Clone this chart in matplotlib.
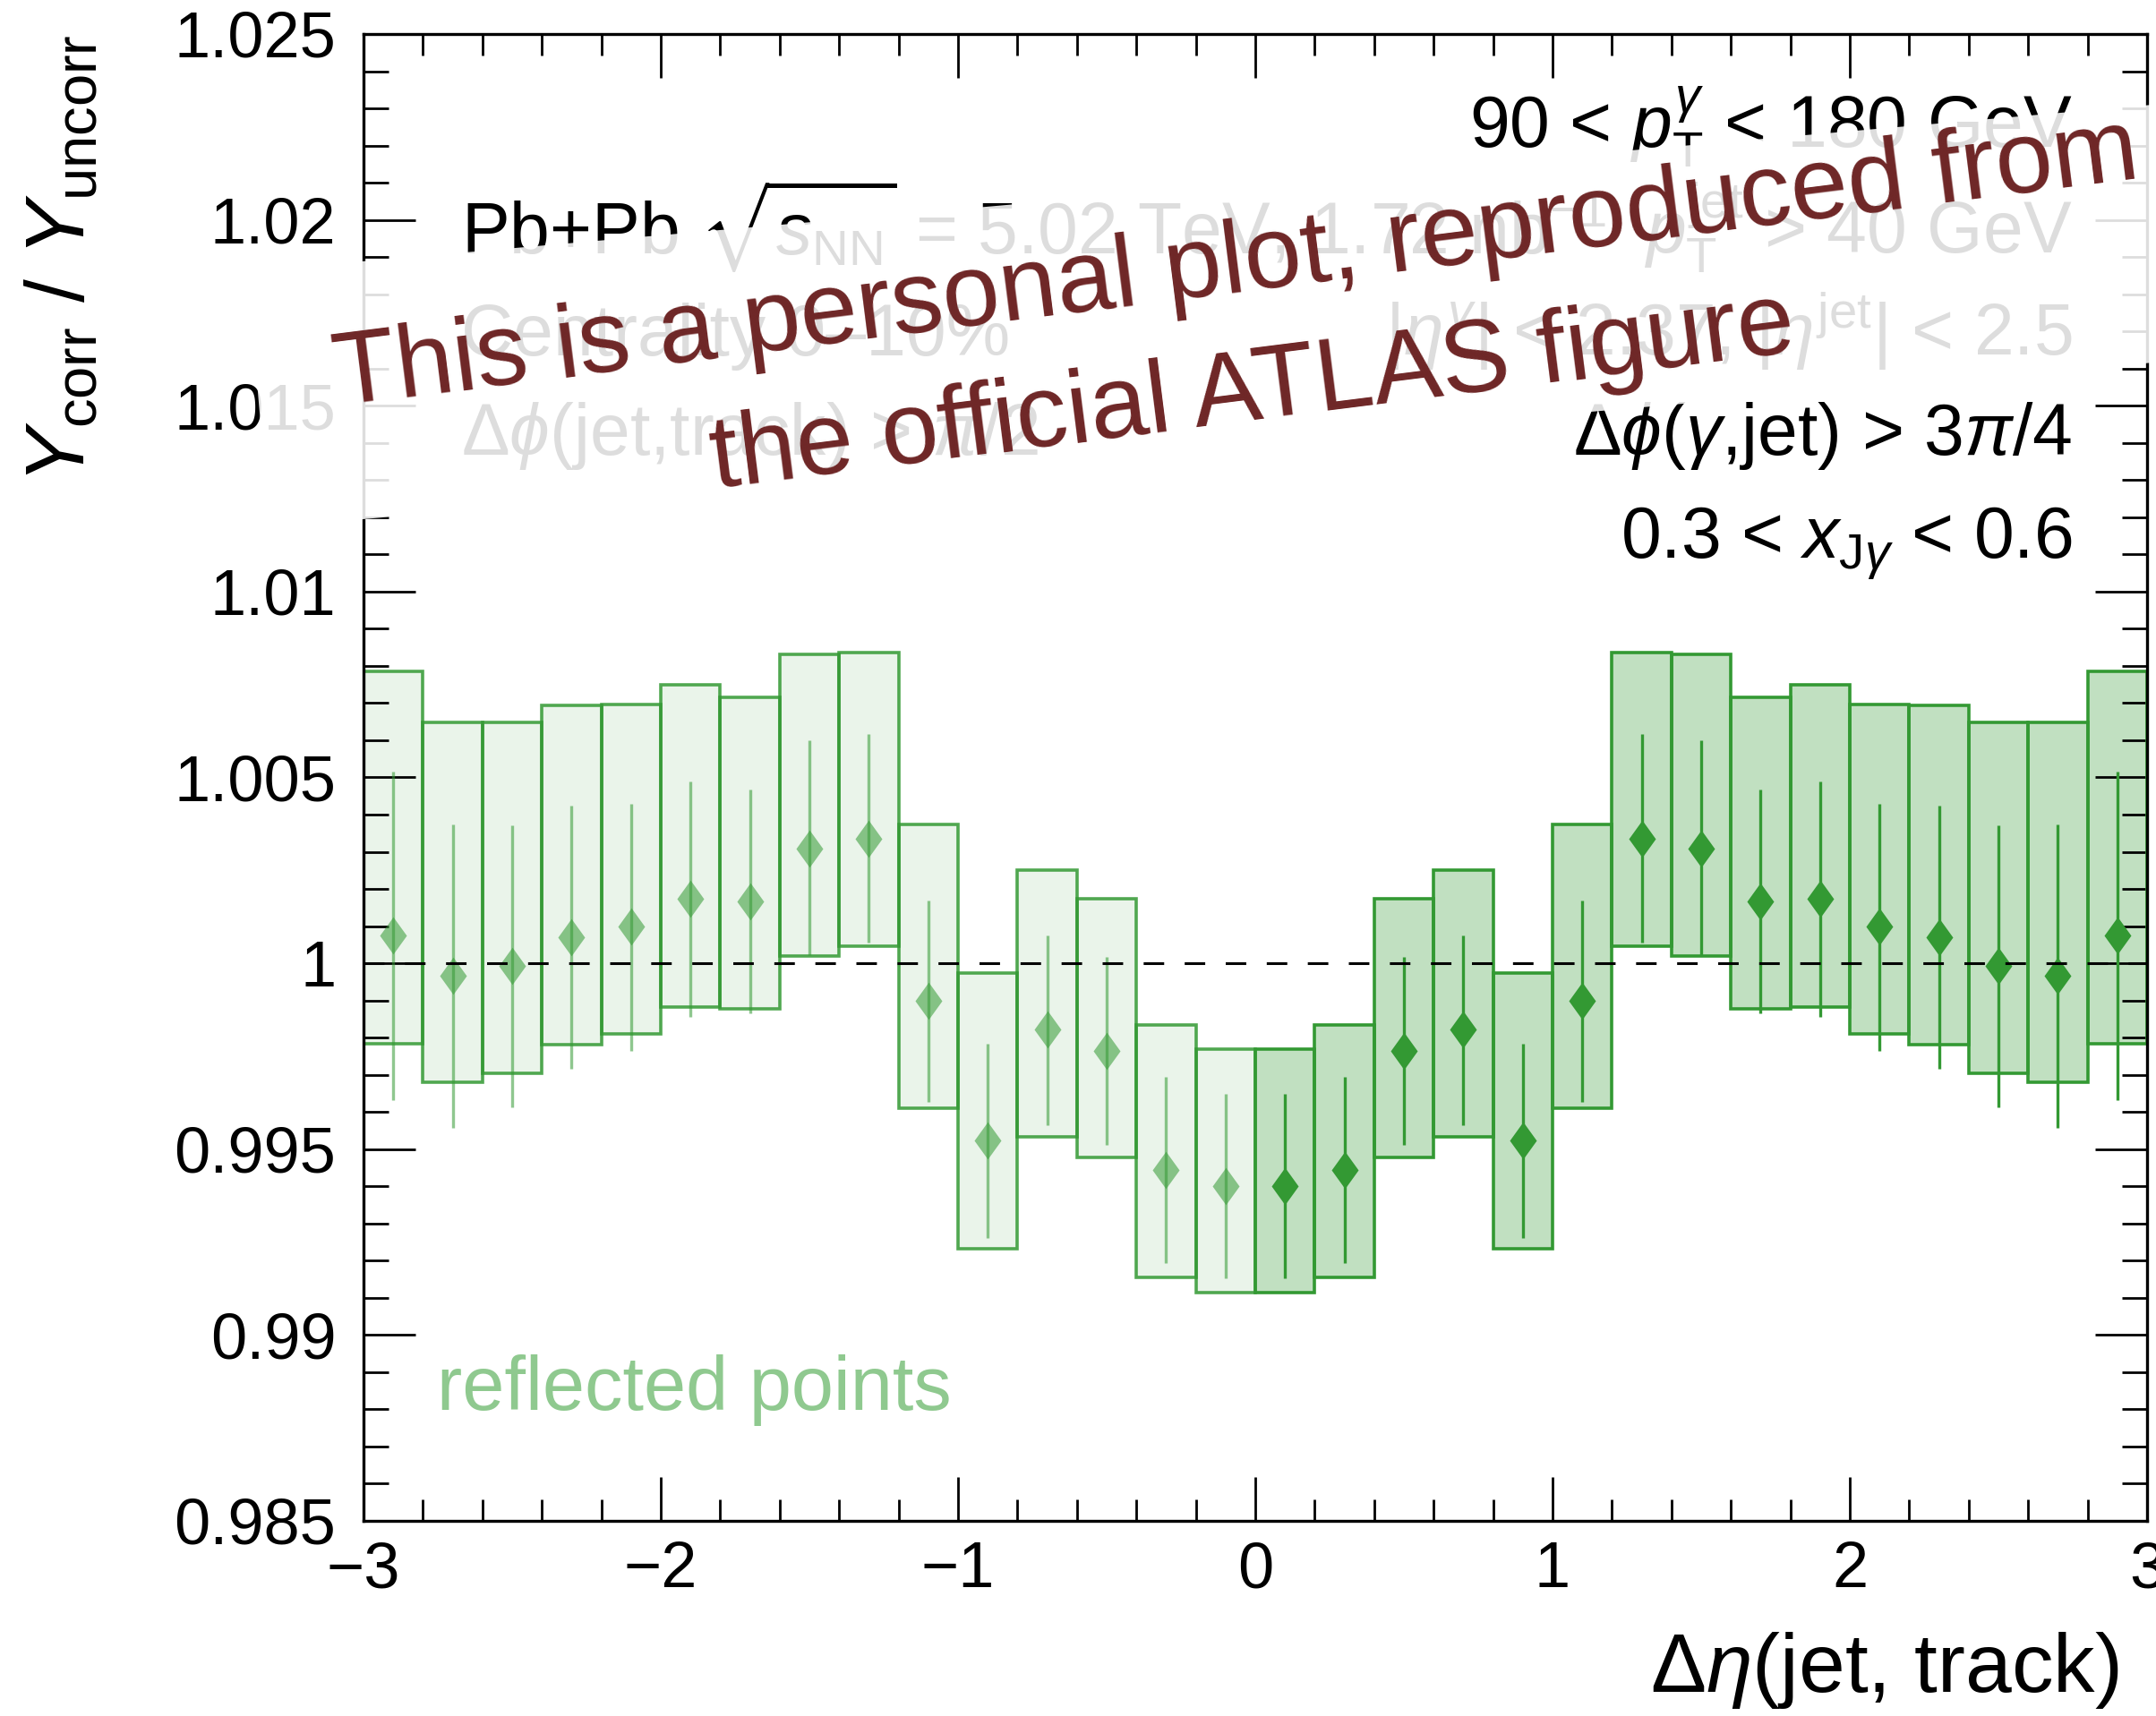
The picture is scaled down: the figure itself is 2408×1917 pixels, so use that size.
import numpy as np
import matplotlib
matplotlib.use('Agg')
import matplotlib.pyplot as plt
from matplotlib.path import Path
from matplotlib.patches import Rectangle
from matplotlib.ticker import MultipleLocator, FixedLocator, FuncFormatter

plt.rcParams['font.family'] = ['Liberation Sans', 'DejaVu Sans']
plt.rcParams['mathtext.fontset'] = 'custom'
plt.rcParams['mathtext.rm'] = 'Liberation Sans'
plt.rcParams['mathtext.it'] = 'Liberation Sans:italic'
plt.rcParams['mathtext.bf'] = 'Liberation Sans:bold'
plt.rcParams['mathtext.sf'] = 'Liberation Sans'
plt.rcParams['mathtext.fallback'] = 'stixsans'
plt.rcParams['lines.scale_dashes'] = False

# ---------------- data (right half, 0 < d_eta < 3) ----------------
bin_centers = [0.1, 0.3, 0.5, 0.7, 0.9, 1.1, 1.3, 1.5, 1.7, 1.9, 2.1, 2.3, 2.5, 2.7, 2.9]
bin_width = 0.2
ratio = [0.99401, 0.99445, 0.99765, 0.99821, 0.99523, 0.99898, 1.00335, 1.00308,
         1.00166, 1.00174, 1.00098, 1.00069, 0.99993, 0.99966, 1.00074]
stat_hi = [0.99648, 0.99695, 1.00018, 1.00076, 0.99784, 1.00169, 1.00617, 1.00599,
           1.00468, 1.00489, 1.00429, 1.00423, 1.00370, 1.00374, 1.00516]
stat_lo = [0.99153, 0.99194, 0.99512, 0.99564, 0.99261, 0.99626, 1.00055, 1.00023,
           0.99865, 0.99856, 0.99765, 0.99716, 0.99613, 0.99558, 0.99632]
sys_hi = [0.99769, 0.99833, 1.00174, 1.00250, 0.99975, 1.00374, 1.00836, 1.00832,
          1.00715, 1.00750, 1.00697, 1.00695, 1.00647, 1.00648, 1.00785]
sys_lo = [0.99115, 0.99156, 0.99477, 0.99532, 0.99231, 0.99609, 1.00047, 1.00020,
          0.99877, 0.99883, 0.99810, 0.99780, 0.99704, 0.99679, 0.99784]

x_ticks = [-3, -2, -1, 0, 1, 2, 3]
y_ticks = [0.985, 0.99, 0.995, 1.0, 1.005, 1.01, 1.015, 1.02, 1.025]

green = '#339933'

x = np.array(bin_centers)
r = np.array(ratio)
shi, slo = np.array(stat_hi), np.array(stat_lo)
yhi, ylo = np.array(sys_hi), np.array(sys_lo)

fig = plt.figure(figsize=(24.08, 19.17), dpi=100)
ax = fig.add_axes([0.1686, 0.11372, 0.82725, 0.86646])

diamond = Path([(0, 1), (0.72, 0), (0, -1), (-0.72, 0), (0, 1)],
               [Path.MOVETO, Path.LINETO, Path.LINETO, Path.LINETO, Path.CLOSEPOLY])
msize = 30

# reflected (negative side), lighter
ax.bar(-x, yhi - ylo, bottom=ylo, width=bin_width, color=green, alpha=0.10,
       linewidth=0, zorder=1)
ax.bar(-x, yhi - ylo, bottom=ylo, width=bin_width, facecolor='none',
       edgecolor=(0.2, 0.6, 0.2, 0.85), linewidth=2.6, zorder=2)
ax.vlines(-x, slo, shi, color=green, alpha=0.55, linewidth=2.4, zorder=3)
ax.plot(-x, r, ls='none', marker=diamond, markersize=msize, color=green,
        alpha=0.55, markeredgewidth=0, zorder=4)

# measured (positive side)
ax.bar(x, yhi - ylo, bottom=ylo, width=bin_width, color=green, alpha=0.30,
       linewidth=0, zorder=1)
ax.bar(x, yhi - ylo, bottom=ylo, width=bin_width, facecolor='none',
       edgecolor=green, linewidth=2.6, zorder=2)
ax.vlines(x, slo, shi, color=green, linewidth=2.4, zorder=3)
ax.plot(x, r, ls='none', marker=diamond, markersize=msize, color=green,
        markeredgewidth=0, zorder=4)

ax.axhline(1.0, color='black', linewidth=2.2, linestyle=(0, (16.5, 16.5)), zorder=5)

ax.set_xlim(-3, 3)
ax.set_ylim(0.985, 1.025)
ax.xaxis.set_major_locator(FixedLocator(x_ticks))
ax.xaxis.set_minor_locator(MultipleLocator(0.2))
ax.yaxis.set_major_locator(FixedLocator(y_ticks))
ax.yaxis.set_minor_locator(MultipleLocator(0.001))
ax.xaxis.set_major_formatter(FuncFormatter(lambda v, p: f'{v:g}'.replace('-', '\u2212')))
ax.yaxis.set_major_formatter(FuncFormatter(lambda v, p: f'{v:.3f}'.rstrip('0').rstrip('.')))

ax.tick_params(which='both', direction='in', top=True, right=True, width=2.0,
               labelsize=52, zorder=6)
ax.tick_params(axis='x', which='major', length=35, pad=16)
ax.tick_params(axis='x', which='minor', length=17.5)
ax.tick_params(axis='y', which='major', length=42, pad=22)
ax.tick_params(axis='y', which='minor', length=20)
for s in ax.spines.values():
    s.set_linewidth(2.4)
    s.set_zorder(6)

ax.set_xlabel(r'$\Delta\eta$(jet, track)', fontsize=67, ha='right', va='baseline')
ax.xaxis.set_label_coords(0.984, -0.115)
ax.set_ylabel(r'$Y_{\mathrm{corr}}$ / $Y_{\mathrm{uncorr}}$', fontsize=67, ha='right', va='top')
ax.yaxis.set_label_coords(-0.190, 1.0)

fs = 58
xr = 0.958
xl = 0.0547
ax.text(xr, 0.9235, r'90 < $p_{\mathrm{T}}^{\gamma}$ < 180 GeV', fontsize=fs, ha='right', va='baseline', transform=ax.transAxes)
ax.text(xr, 0.8519, r'$p_{\mathrm{T}}^{\mathrm{jet}}$ > 40 GeV', fontsize=fs, ha='right', va='baseline', transform=ax.transAxes)
ax.text(xr, 0.7839, r'$|\eta^{\gamma}|$ < 2.37, $|\eta^{\mathrm{jet}}|$ < 2.5', fontsize=fs, ha='right', va='baseline', transform=ax.transAxes)
ax.text(xr, 0.717, r'$\Delta\phi(\gamma$,jet) > 3$\pi$/4', fontsize=fs, ha='right', va='baseline', transform=ax.transAxes)
ax.text(xr, 0.6472, r'0.3 < $x_{\mathrm{J}\gamma}$ < 0.6', fontsize=fs, ha='right', va='baseline', transform=ax.transAxes)

ax.text(xl, 0.8519, r'Pb+Pb $\sqrt{s_{\mathrm{NN}}}$ = 5.02 TeV, 1.72 nb$^{-1}$', fontsize=fs, ha='left', va='baseline', transform=ax.transAxes)
ax.text(xl, 0.7839, 'Centrality 0\u201310%', fontsize=fs, ha='left', va='baseline', transform=ax.transAxes)
ax.text(xl, 0.717, r'$\Delta\phi$(jet,track) > $\pi$/2', fontsize=fs, ha='left', va='baseline', transform=ax.transAxes)

ax.text(0.0412, 0.0747, 'reflected points', fontsize=61, color='#8fc98f', ha='left', va='baseline', transform=ax.transAxes)

# translucent white band behind the watermark (inches, figure space)
band = Rectangle((3.012, 13.279), 21.37, 2.87, angle=5.0, transform=fig.dpi_scale_trans,
                 facecolor='white', alpha=0.87, edgecolor='none', zorder=10)
fig.add_artist(band)

# watermark
fig.text(0.1686 + 0.82725 * 0.498, 0.11372 + 0.86646 * 0.763,
         'This is a personal plot, reproduced from\nthe official ATLAS figure',
         fontsize=83, color='#6e2626', ha='center', va='baseline', multialignment='center',
         rotation=7.2, rotation_mode='anchor', linespacing=1.45, zorder=20)

fig.savefig('out.png', dpi=100)
